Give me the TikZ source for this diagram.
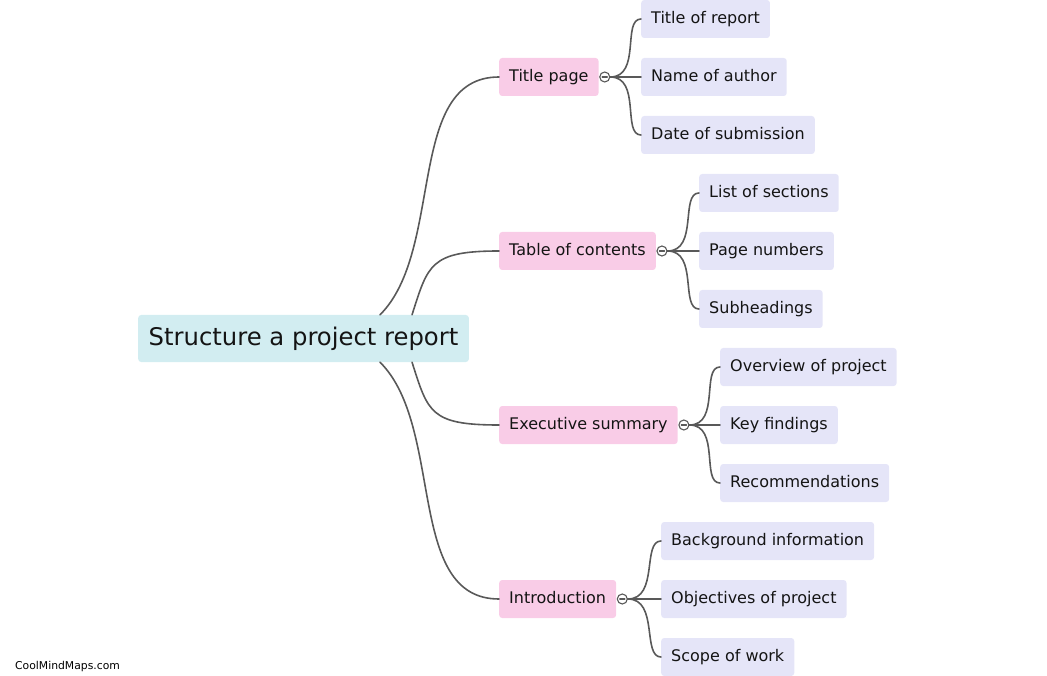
\documentclass[tikz,border=0pt]{standalone}
\usepackage{fontspec}
\setmainfont{DejaVu Sans}
\definecolor{rootFill}{HTML}{D2EDF1}
\definecolor{topicFill}{HTML}{F9CCE7}
\definecolor{leafFill}{HTML}{E5E5F8}
\definecolor{linkGray}{HTML}{595959}
\definecolor{inkBlack}{HTML}{141414}
\tikzset{
  rootbox/.style={fill=rootFill, rounded corners=3pt, anchor=west, text=inkBlack,
    font=\fontsize{24.3}{28}\selectfont, text height=19pt, text depth=4.2pt,
    inner xsep=10.5pt, inner ysep=11.9pt},
  topicbox/.style={fill=topicFill, rounded corners=3pt, anchor=west, text=inkBlack,
    font=\fontsize{16}{19}\selectfont, text height=12.6pt, text depth=3pt,
    inner xsep=10pt, inner ysep=11.2pt},
  leafbox/.style={topicbox, fill=leafFill},
  fold/.style={circle, draw=linkGray, fill=white, line width=1.1pt,
    minimum size=10pt, inner sep=0pt},
  link/.style={draw=linkGray, line width=1.6pt}
}
\begin{document}
\begin{tikzpicture}[x=1pt, y=-1pt, line cap=round]
% Mind map in pixel coordinates (y grows downwards)
\useasboundingbox (0,0) rectangle (1047,676);
% Central topic
\node[rootbox] (root) at (138,338.5) {Structure a project report};
% Main branches
\node[topicbox] (tp) at (499,77) {Title page};
\node[topicbox] (toc) at (499,251) {Table of contents};
\node[topicbox] (es) at (499,425) {Executive summary};
\node[topicbox] (intro) at (499,599) {Introduction};
% Root to main branches
\draw[link] ([xshift=76.5pt]root.north) .. controls +(65,-65) and +(-94,0) .. (tp.west);
\draw[link] ([xshift=108.5pt]root.north) .. controls +(16,-50) and +(-69,0) .. (toc.west);
\draw[link] ([xshift=108.5pt]root.south) .. controls +(16,50) and +(-69,0) .. (es.west);
\draw[link] ([xshift=76.5pt]root.south) .. controls +(65,65) and +(-94,0) .. (intro.west);
% Fold markers
\node[fold] (tpc) at ([xshift=6pt]tp.east) {};
\node[fold] (tocc) at ([xshift=6pt]toc.east) {};
\node[fold] (esc) at ([xshift=6pt]es.east) {};
\node[fold] (introc) at ([xshift=6pt]intro.east) {};
\foreach \c in {tpc,tocc,esc,introc}
  \draw[linkGray, line width=1.1pt] ([xshift=-2.6pt]\c.center) -- ([xshift=2.6pt]\c.center);
% Leaves
\node[leafbox] (tp1) at (641,19) {Title of report};
\node[leafbox] (tp2) at (641,77) {Name of author};
\node[leafbox] (tp3) at (641,135) {Date of submission};
\node[leafbox] (toc1) at (699,193) {List of sections};
\node[leafbox] (toc2) at (699,251) {Page numbers};
\node[leafbox] (toc3) at (699,309) {Subheadings};
\node[leafbox] (es1) at (720,367) {Overview of project};
\node[leafbox] (es2) at (720,425) {Key findings};
\node[leafbox] (es3) at (720,483) {Recommendations};
\node[leafbox] (intro1) at (661,541) {Background information};
\node[leafbox] (intro2) at (661,599) {Objectives of project};
\node[leafbox] (intro3) at (661,657) {Scope of work};
% Main branches to leaves
\foreach \p/\n in {tpc/tp,tocc/toc,esc/es,introc/intro}
  \foreach \i in {1,2,3}
    \draw[link] (\p.east) .. controls +(31,0) and +(-19,0) .. (\n\i.west);
% Watermark
\node[anchor=west, inner sep=0pt, font=\fontsize{10.8}{13}\selectfont] (mark) at (15,667) {CoolMindMaps.com};
\end{tikzpicture}
\end{document}
